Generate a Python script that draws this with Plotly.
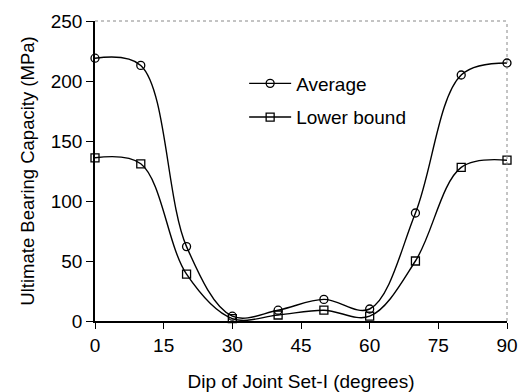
import plotly.graph_objects as go

dip = [0, 10, 20, 30, 40, 50, 60, 70, 80, 90]
average = [219, 213, 62, 4, 9, 18, 10, 90, 205, 215]
lower_bound = [136, 131, 39, 2, 5, 9, 4, 50, 128, 134]
x_ticks = [0, 15, 30, 45, 60, 75, 90]
y_ticks = [0, 50, 100, 150, 200, 250]

FONT = "Liberation Sans, Arial, sans-serif"

fig = go.Figure()
fig.add_trace(go.Scatter(
    x=dip, y=average, name="Average", mode="lines+markers",
    line=dict(color="black", width=1.4, shape="spline", smoothing=1.0),
    marker=dict(symbol="circle-open", size=8, color="black", line=dict(width=1.3)),
    cliponaxis=False, legendgroup="a"))
fig.add_trace(go.Scatter(
    x=dip, y=lower_bound, name="Lower bound", mode="lines+markers",
    line=dict(color="black", width=1.4, shape="spline", smoothing=1.0),
    marker=dict(symbol="square-open", size=8, color="black", line=dict(width=1.3)),
    cliponaxis=False, legendgroup="b"))

# dotted top and right frame
fig.add_shape(type="line", xref="paper", yref="paper", x0=0, x1=1, y0=1, y1=1,
              line=dict(color="#888", width=1, dash="dot"))
fig.add_shape(type="line", xref="paper", yref="paper", x0=1, x1=1, y0=0, y1=1,
              line=dict(color="#888", width=1, dash="dot"))

fig.update_layout(
    width=523, height=392,
    margin=dict(l=95, r=16, t=21, b=71, autoexpand=False),
    paper_bgcolor="white", plot_bgcolor="white",
    font=dict(family=FONT, color="black", size=19),
    showlegend=True,
    legend=dict(x=0.362, y=0.735, xanchor="left", yanchor="middle",
                bgcolor="rgba(0,0,0,0)", font=dict(size=19), itemwidth=42,
                traceorder="grouped", tracegroupgap=6),
    xaxis=dict(range=[0, 90], tickvals=x_ticks, ticks="outside", ticklen=6,
               tickcolor="black", showline=True, linecolor="black", linewidth=1.5,
               showgrid=False, zeroline=False, tickfont=dict(size=19), automargin=False,
               title=dict(text="Dip of Joint Set-I (degrees)", font=dict(size=19), standoff=26)),
    yaxis=dict(range=[0, 250], tickvals=y_ticks, ticks="outside", ticklen=7,
               tickcolor="black", showline=True, linecolor="black", linewidth=1.5,
               showgrid=False, zeroline=False, tickfont=dict(size=19), automargin=False,
               title=dict(text="Ultimate Bearing Capacity (MPa)", font=dict(size=18.5), standoff=11)),
)

fig.write_html("out.html")
